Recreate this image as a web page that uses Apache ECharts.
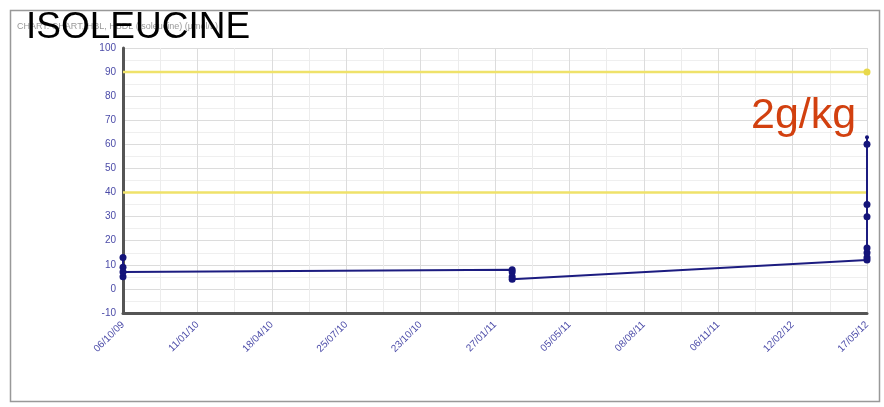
<!DOCTYPE html>
<html>
<head>
<meta charset="utf-8">
<script src="https://cdn.jsdelivr.net/npm/echarts@6/dist/echarts.min.js"></script>
<style>
  html, body { margin: 0; padding: 0; background: #fff; }
  #chart { width: 884px; height: 407px; }
</style>
</head>
<body>
<div id="chart"></div>
<script>
// Tick labels along the date axis (dd/mm/yy)
const tickLabels = ['06/10/09', '11/01/10', '18/04/10', '25/07/10', '23/10/10', '27/01/11',
                    '05/05/11', '08/08/11', '06/11/11', '12/02/12', '17/05/12'];
const axisStart = '2009-10-06';
const axisEnd = '2012-05-17';

// Sample dates and the isoleucine readings (µmol/L) taken on each, in plotted order
const sampleDates = ['2009-10-06', '2009-10-06', '2009-10-06', '2009-10-06',
                     '2011-02-17', '2011-02-17', '2011-02-17', '2011-02-17',
                     '2012-05-17', '2012-05-17', '2012-05-17', '2012-05-17',
                     '2012-05-17', '2012-05-17', '2012-05-17', '2012-05-17'];
const sampleValues = [13, 9, 5, 7,
                      8, 7, 5, 4,
                      12, 13, 15, 17, 30, 35, 60, 63];

// Reference range limits
const upperLimit = 90;
const lowerLimit = 40;

const t0 = Date.parse(axisStart);
const t1 = Date.parse(axisEnd);
const toAxis = d => (Date.parse(d) - t0) / (t1 - t0) * (tickLabels.length - 1);

const lastX = tickLabels.length - 1;
const points = sampleDates.map((d, i) => {
  const p = { value: [toAxis(d), sampleValues[i]] };
  // the topmost reading on the last day is drawn as a small cap
  if (i === sampleDates.length - 1) p.symbolSize = 4;
  return p;
});

const chart = echarts.init(document.getElementById('chart'));
chart.setOption({
  animation: false,
  backgroundColor: '#fff',
  grid: { left: 123, right: 17, top: 48, bottom: 94 },
  xAxis: {
    type: 'value', min: 0, max: lastX, interval: 1,
    axisLine: { show: true, onZero: false, lineStyle: { color: '#555', width: 3 } },
    axisTick: { show: false },
    axisLabel: {
      rotate: 45, color: '#4b4ba8', fontSize: 10, fontFamily: 'Liberation Sans',
      margin: 10,
      formatter: v => tickLabels[Math.round(v)] || ''
    },
    splitLine: { show: true, lineStyle: { color: '#dcdcdc', width: 1 } },
    minorTick: { show: false, splitNumber: 2 },
    minorSplitLine: { show: true, lineStyle: { color: '#ececec', width: 1 } }
  },
  yAxis: {
    type: 'value', min: -10, max: 100, interval: 10,
    axisLine: { show: true, lineStyle: { color: '#555', width: 3 } },
    axisTick: { show: false },
    axisLabel: { color: '#4b4ba8', fontSize: 10, fontFamily: 'Liberation Sans', margin: 7 },
    splitLine: { show: true, lineStyle: { color: '#dcdcdc', width: 1 } },
    minorTick: { show: false, splitNumber: 2 },
    minorSplitLine: { show: true, lineStyle: { color: '#efefef', width: 1 } }
  },
  series: [
    {
      type: 'line',
      data: [[0, upperLimit], { value: [lastX, upperLimit], symbol: 'circle', symbolSize: 7 }],
      symbol: 'none',
      lineStyle: { color: '#efe26a', width: 2.5 },
      itemStyle: { color: '#e8d84a' },
      z: 2
    },
    {
      type: 'line',
      data: [[0, lowerLimit], [lastX, lowerLimit]],
      symbol: 'none',
      lineStyle: { color: '#efe26a', width: 2.5 },
      z: 2
    },
    {
      type: 'line',
      data: points,
      symbol: 'circle',
      symbolSize: 7,
      lineStyle: { color: '#1c1c80', width: 2 },
      itemStyle: { color: '#14147a' },
      z: 5
    }
  ],
  graphic: [
    {
      type: 'rect', left: 8, top: 8, z: 0,
      shape: { width: 869, height: 391 },
      style: { fill: 'none', stroke: '#999', lineWidth: 1.5 }
    },
    {
      type: 'text', left: 17, top: 22, z: 10,
      style: { text: 'CHART: CHART, HBL, HBDL (Isoleucine) (µmol/L)', fill: '#999',
               font: '9px "Liberation Sans"' }
    },
    {
      type: 'text', left: 26, top: 9, z: 11,
      style: { text: 'ISOLEUCINE', fill: '#000', font: '37px "Liberation Sans"' }
    },
    {
      type: 'text', left: 751, top: 95, z: 11,
      style: { text: '2g/kg', fill: '#d2400f', font: '43px "Liberation Sans"' }
    }
  ]
});
</script>
</body>
</html>
